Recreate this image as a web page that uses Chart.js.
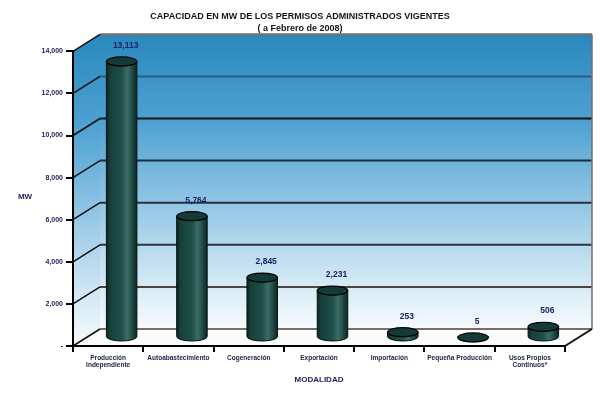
<!DOCTYPE html>
<html>
<head>
<meta charset="utf-8">
<script src="https://cdn.jsdelivr.net/npm/chart.js@4"></script>
<style>
  html, body { margin: 0; padding: 0; background: #fff; }
  #wrap { width: 600px; height: 395px; }
</style>
</head>
<body>
<div id="wrap"><canvas id="chart"></canvas></div>
<script>
const categories = [
  ["Producción", "Independiente"],
  "Autoabastecimiento",
  "Cogeneración",
  "Exportación",
  "Importación",
  "Pequeña Producción",
  ["Usos Propios", "Continuos*"]
];
const capacityMW = [13113, 5764, 2845, 2231, 253, 5, 506];
const yMax = 14000;
const yStep = 2000;

// 3d depth of the box, in pixels
const DX = 27, DY = 17;
const FONT = "'Liberation Sans', Arial, sans-serif";

function wallGradient(ctx, top, bottom) {
  const g = ctx.createLinearGradient(0, top, 0, bottom);
  g.addColorStop(0, "#2a88bd");
  g.addColorStop(0.3, "#4fa2d2");
  g.addColorStop(0.6, "#98c9e6");
  g.addColorStop(0.85, "#d6eaf5");
  g.addColorStop(1, "#f6fafd");
  return g;
}

const box3d = {
  id: "box3d",
  beforeDraw(chart) {
    const { ctx, chartArea: a, scales } = chart;
    const y = scales.y;
    ctx.save();
    // side wall
    ctx.fillStyle = wallGradient(ctx, a.top - DY, a.bottom);
    ctx.beginPath();
    ctx.moveTo(a.left, a.top);
    ctx.lineTo(a.left + DX, a.top - DY);
    ctx.lineTo(a.left + DX, a.bottom - DY);
    ctx.lineTo(a.left, a.bottom);
    ctx.closePath();
    ctx.fill();
    // back wall
    ctx.fillStyle = wallGradient(ctx, a.top - DY, a.bottom - DY);
    ctx.fillRect(a.left + DX, a.top - DY, a.right - a.left, a.bottom - a.top);
    // floor
    ctx.fillStyle = "#fbfbfb";
    ctx.beginPath();
    ctx.moveTo(a.left, a.bottom);
    ctx.lineTo(a.left + DX, a.bottom - DY);
    ctx.lineTo(a.right + DX, a.bottom - DY);
    ctx.lineTo(a.right, a.bottom);
    ctx.closePath();
    ctx.fill();

    // grid lines on side + back wall
    const gridColors = { 14000: "#7a6d66", 12000: "#2c5d7e", 10000: "#0d1218", 8000: "#1d2e3c",
                         6000: "#26323c", 4000: "#2f3438", 2000: "#4a4440", 0: "#7a6d66" };
    for (let v = 0; v <= yMax; v += yStep) {
      const py = y.getPixelForValue(v);
      ctx.strokeStyle = gridColors[v] || "#222";
      ctx.lineWidth = 2;
      ctx.beginPath();
      ctx.moveTo(a.left + DX, py - DY);
      ctx.lineTo(a.right + DX, py - DY);
      ctx.stroke();
      ctx.strokeStyle = "#111";
      ctx.lineWidth = 1.5;
      ctx.beginPath();
      ctx.moveTo(a.left, py);
      ctx.lineTo(a.left + DX, py - DY);
      ctx.stroke();
    }
    // right edge of back wall and floor edge
    ctx.strokeStyle = "#7a6d66";
    ctx.lineWidth = 1.5;
    ctx.beginPath();
    ctx.moveTo(a.right + DX, a.top - DY);
    ctx.lineTo(a.right + DX, a.bottom - DY);
    ctx.stroke();
    ctx.strokeStyle = "#111";
    ctx.lineWidth = 2;
    ctx.beginPath();
    ctx.moveTo(a.right, a.bottom);
    ctx.lineTo(a.right + DX, a.bottom - DY);
    ctx.stroke();

    // MW label
    ctx.fillStyle = "#1b1f55";
    ctx.font = "bold 8px " + FONT;
    ctx.textAlign = "center";
    ctx.textBaseline = "middle";
    ctx.fillText("MW", 25, 197);
    ctx.restore();
  }
};

function drawCylinder(ctx, cx, topY, botY, w, ry) {
  const l = cx - w / 2, r = cx + w / 2;
  const g = ctx.createLinearGradient(l, 0, r, 0);
  g.addColorStop(0, "#0a2320");
  g.addColorStop(0.12, "#173f3a");
  g.addColorStop(0.5, "#1e4f49");
  g.addColorStop(0.68, "#3d6c66");
  g.addColorStop(0.78, "#2a5a54");
  g.addColorStop(1, "#0b2624");
  ctx.beginPath();
  ctx.moveTo(l, topY);
  ctx.lineTo(l, botY);
  ctx.ellipse(cx, botY, w / 2, ry, 0, Math.PI, 0, true);
  ctx.lineTo(r, topY);
  ctx.ellipse(cx, topY, w / 2, ry, 0, 0, Math.PI, false);
  ctx.closePath();
  ctx.fillStyle = g;
  ctx.fill();
  ctx.strokeStyle = "#061412";
  ctx.lineWidth = 1;
  ctx.stroke();
  ctx.beginPath();
  ctx.ellipse(cx, topY, w / 2, ry, 0, 0, Math.PI * 2);
  ctx.fillStyle = "#163a36";
  ctx.fill();
  ctx.strokeStyle = "#000";
  ctx.lineWidth = 1.2;
  ctx.stroke();
}

const cylinders = {
  id: "cylinders",
  afterDatasetsDraw(chart) {
    const { ctx } = chart;
    const meta = chart.getDatasetMeta(0);
    ctx.save();
    meta.data.forEach((bar, i) => {
      const cx = bar.x + DX / 2;
      const topY = bar.y - DY / 2;
      const botY = bar.base - DY / 2;
      const ry = 4.5;
      drawCylinder(ctx, cx, topY, botY, bar.width, ry);
      ctx.fillStyle = "#1b2366";
      ctx.font = "bold 8.5px " + FONT;
      ctx.textAlign = "center";
      ctx.textBaseline = "middle";
      ctx.fillText(capacityMW[i].toLocaleString("en-US"), cx + 4, topY - 16);
    });
    ctx.restore();
  }
};

new Chart(document.getElementById("chart"), {
  type: "bar",
  data: {
    labels: categories,
    datasets: [{
      data: capacityMW,
      backgroundColor: "rgba(0,0,0,0)",
      borderWidth: 0,
      barPercentage: 0.62,
      categoryPercentage: 0.7
    }]
  },
  options: {
    responsive: true,
    maintainAspectRatio: false,
    animation: false,
    layout: { padding: { left: 35, right: 35, bottom: 10 } },
    plugins: {
      legend: { display: false },
      tooltip: { enabled: false },
      title: {
        display: true,
        text: ["CAPACIDAD EN MW DE LOS PERMISOS ADMINISTRADOS VIGENTES", "( a Febrero de 2008)"],
        color: "#151515",
        font: { family: FONT, size: 9, weight: "bold", lineHeight: 1.35 },
        padding: { top: 10, bottom: 17 }
      }
    },
    scales: {
      y: {
        min: 0,
        max: yMax,
        ticks: {
          stepSize: yStep,
          color: "#1b1f55",
          font: { family: FONT, size: 7, weight: "bold" },
          padding: 3,
          callback: v => v === 0 ? "-" : v.toLocaleString("en-US")
        },
        grid: { drawOnChartArea: false, tickLength: 7, color: "#000", lineWidth: 2 },
        border: { color: "#000", width: 2 },
        afterFit(s) { s.width = 38; }
      },
      x: {
        offset: true,
        grid: { offset: true, drawOnChartArea: false, tickLength: 6, color: "#000", lineWidth: 2 },
        border: { color: "#000", width: 2 },
        ticks: {
          color: "#1b1f40",
          font: { family: FONT, size: 6.5, weight: "bold" },
          maxRotation: 0,
          autoSkip: false,
          padding: 2
        },
        title: {
          display: true,
          text: "MODALIDAD",
          color: "#1b1f55",
          font: { family: FONT, size: 8, weight: "bold" },
          padding: { top: 4, bottom: 0 }
        },
        afterFit(s) { s.height = 39; }
      }
    }
  },
  plugins: [box3d, cylinders]
});
</script>
</body>
</html>
